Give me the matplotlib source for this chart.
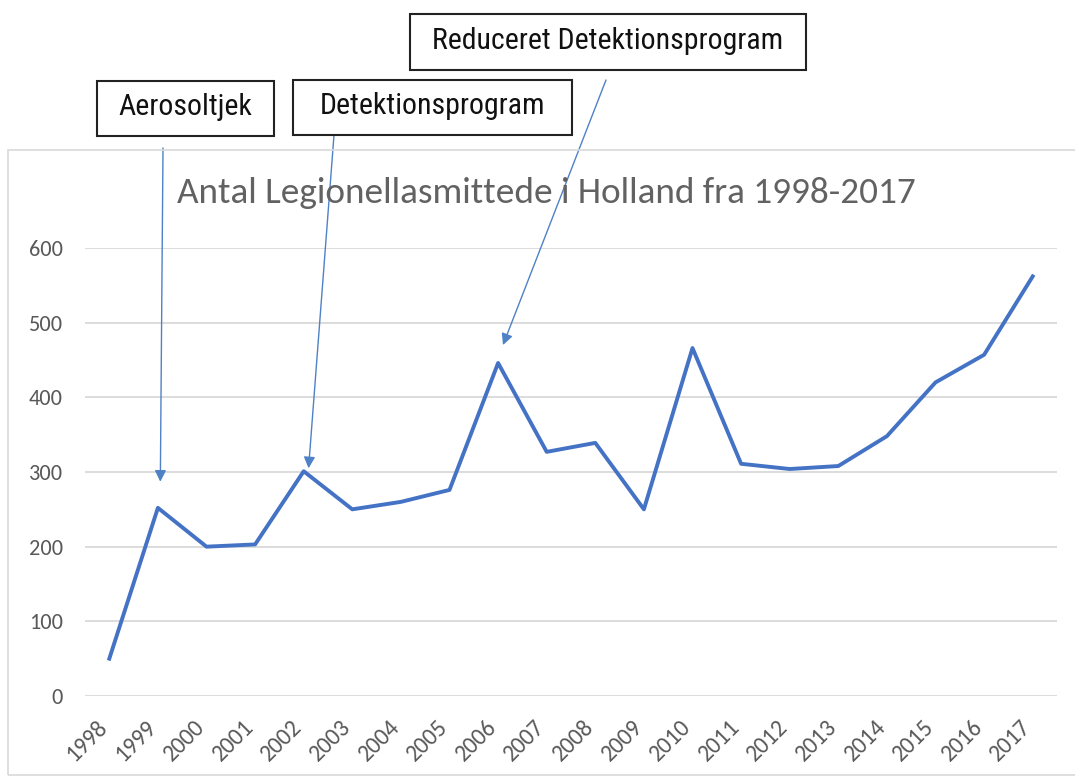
import matplotlib
matplotlib.use("Agg")
import matplotlib.pyplot as plt
from matplotlib.patches import Rectangle
from matplotlib.transforms import ScaledTranslation

years = ["1998", "1999", "2000", "2001", "2002", "2003", "2004", "2005", "2006", "2007",
         "2008", "2009", "2010", "2011", "2012", "2013", "2014", "2015", "2016", "2017"]
cases = [50, 252, 200, 203, 301, 250, 260, 276, 446, 327,
         339, 250, 466, 311, 304, 308, 348, 420, 457, 562]
yticks = [0, 100, 200, 300, 400, 500, 600]
title = "Antal Legionellasmittede i Holland fra 1998-2017"
notes = ["Aerosoltjek", "Detektionsprogram", "Reduceret Detektionsprogram"]
note_idx = [1.05, 4.1, 8.1]
note_val = [287, 305, 470]

CAL = ["Carlito", "Open Sans", "DejaVu Sans"]
NAR = ["Roboto Condensed", "PT Sans Narrow", "Liberation Sans"]

W, H = 1075, 778
fig = plt.figure(figsize=(W / 100, H / 100), dpi=100)
fig.patch.set_facecolor("white")

# chart frame
fig.patches.append(Rectangle((8 / W, 1 - 775 / H), 1.2, (775 - 150) / H,
                             transform=fig.transFigure, fill=False,
                             edgecolor="#d9d9d9", linewidth=1.2))

ax = fig.add_axes([85 / W, 1 - 696 / H, (1057 - 85) / W, (696 - 248) / H])
x = list(range(len(years)))
ax.plot(x, cases, color="#4472C4", linewidth=2.8, solid_joinstyle="round", clip_on=False)
ax.set_xlim(-0.5, len(years) - 0.5)
ax.set_ylim(0, 600)
ax.set_yticks(yticks)
ax.set_yticklabels([str(v) for v in yticks], fontsize=16, color="#595959", family=CAL)
ax.set_xticks(x)
ax.set_xticklabels(years, rotation=45, ha="right", va="center", rotation_mode="anchor",
                   fontsize=17, color="#595959", family=CAL)
ax.tick_params(axis="both", length=0)
ax.tick_params(axis="y", pad=16)
ax.tick_params(axis="x", pad=20)
shift = ScaledTranslation(-0.05, 0, fig.dpi_scale_trans)
for lab in ax.get_xticklabels():
    lab.set_transform(lab.get_transform() + shift)
ax.grid(axis="y", color="#d9d9d9", linewidth=1.3)
ax.set_axisbelow(True)
for s in ax.spines.values():
    s.set_visible(False)

fig.text(546 / W, 1 - 193 / H, title, ha="center", va="center",
         fontsize=26.8, color="#626262", family=CAL)

box_centers = [(185, 108), (432, 107), (608, 42)]
box_sizes = [(177, 55), (279, 55), (396, 56)]
arrow_starts = [(163, 148), (334, 135), (606, 80)]
for txt, (cx, cy), (bw, bh), xi, yv, (sx, sy) in zip(notes, box_centers, box_sizes,
                                                     note_idx, note_val, arrow_starts):
    fig.patches.append(Rectangle(((cx - bw / 2) / W, 1 - (cy + bh / 2) / H), bw / W, bh / H,
                                 transform=fig.transFigure, fill=True, facecolor="white",
                                 edgecolor="#222222", linewidth=1.5, zorder=5))
    fig.text(cx / W, 1 - (cy - 1) / H, txt, ha="center", va="center", fontsize=21.5,
             color="#111111", family=NAR, zorder=6)
    ax.annotate("", xy=(xi, yv), xycoords="data",
                xytext=(sx / W, 1 - sy / H), textcoords="figure fraction",
                arrowprops=dict(arrowstyle="-|>", color="#4F81C6", lw=1.0,
                                mutation_scale=17, shrinkA=0, shrinkB=0),
                annotation_clip=False)

fig.savefig("out.png", dpi=100, facecolor="white")
